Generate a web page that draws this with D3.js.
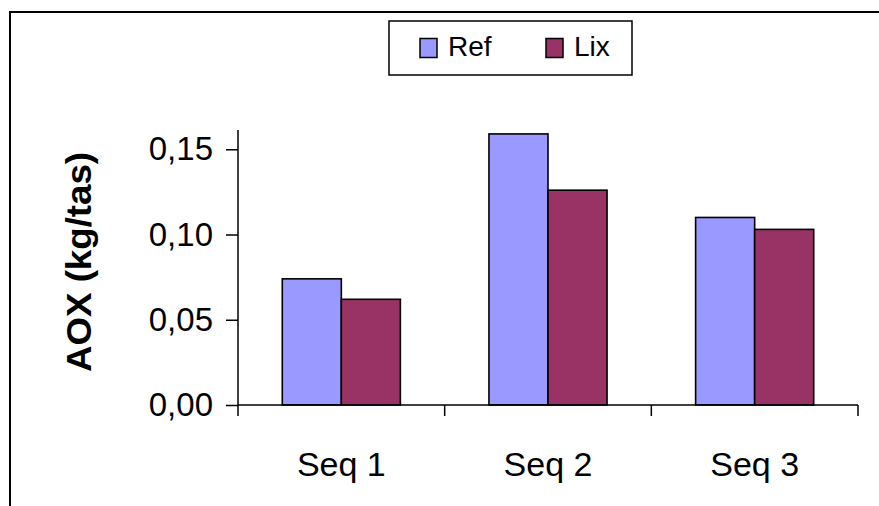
<!DOCTYPE html>
<html>
<head>
<meta charset="utf-8">
<script src="https://cdn.jsdelivr.net/npm/d3@7"></script>
<style>
  html, body { margin: 0; padding: 0; background: #fff; }
  svg { display: block; font-family: "Liberation Sans", Arial, sans-serif; }
</style>
</head>
<body>
<svg id="chart" width="879" height="506"></svg>
<script>
// AOX per sequence, reference vs. leaching
const categories = ["Seq 1", "Seq 2", "Seq 3"];
const seriesNames = ["Ref", "Lix"];
const refValues = [0.074, 0.159, 0.110];
const lixValues = [0.062, 0.126, 0.103];
const tickValues = [0, 0.05, 0.10, 0.15];
const tickLabels = ["0,00", "0,05", "0,10", "0,15"];
const colors = ["#9999FF", "#993366"];

const svg = d3.select("#chart");
const W = 879, H = 506;

// outer chart frame (runs off the right and bottom edges)
svg.append("rect")
  .attr("x", 10).attr("y", 12)
  .attr("width", W + 20).attr("height", H + 20)
  .attr("fill", "#fff").attr("stroke", "#000").attr("stroke-width", 2);

const plot = { left: 238, right: 858, top: 130, bottom: 405 };

const x = d3.scaleBand().domain(categories)
  .range([plot.left, plot.right]).paddingInner(0).paddingOuter(0);
const y = d3.scaleLinear().domain([0, 0.1613]).range([plot.bottom, plot.top]);

// bars: two per category, gap width 150%
const unit = x.bandwidth() / 3.5;
const data = categories.flatMap((c, i) => [
  { cat: c, s: 0, v: refValues[i] },
  { cat: c, s: 1, v: lixValues[i] }
]);
svg.append("g").selectAll("rect").data(data).join("rect")
  .attr("x", d => x(d.cat) + unit * 0.75 + d.s * unit)
  .attr("y", d => y(d.v))
  .attr("width", unit)
  .attr("height", d => y(0) - y(d.v))
  .attr("fill", d => colors[d.s])
  .attr("stroke", "#000").attr("stroke-width", 1.6);

// y axis
const yAxis = d3.axisLeft(y).tickValues(tickValues)
  .tickFormat((d, i) => tickLabels[i]).tickSizeOuter(0).tickSizeInner(12).tickPadding(13);
const gy = svg.append("g").attr("transform", `translate(${plot.left},0)`).call(yAxis);
gy.select(".domain").attr("d", `M0,${plot.top}V${plot.bottom + 11}`).attr("stroke", "#000").attr("stroke-width", 1.5);
gy.selectAll(".tick line").attr("stroke", "#000").attr("stroke-width", 1.5);
gy.selectAll(".tick text").attr("font-size", 33).attr("fill", "#000")
  .attr("font-family", "Liberation Sans, Arial, sans-serif");

// x axis with ticks between categories
const gx = svg.append("g").attr("transform", `translate(0,${plot.bottom})`);
gx.append("line").attr("x1", plot.left).attr("x2", plot.right)
  .attr("stroke", "#000").attr("stroke-width", 1.5);
const bounds = categories.map(c => x(c) + x.bandwidth());
gx.selectAll("line.tk").data(bounds).join("line").attr("class", "tk")
  .attr("x1", d => d).attr("x2", d => d).attr("y1", 0).attr("y2", 11)
  .attr("stroke", "#000").attr("stroke-width", 1.5);
gx.selectAll("text").data(categories).join("text")
  .attr("x", d => x(d) + x.bandwidth() / 2)
  .attr("y", 71)
  .attr("text-anchor", "middle")
  .attr("font-size", 34)
  .text(d => d);

// y axis title
svg.append("text")
  .attr("transform", `translate(91,262) rotate(-90)`)
  .attr("text-anchor", "middle")
  .attr("font-size", 35).attr("font-weight", "bold")
  .attr("textLength", 220).attr("lengthAdjust", "spacingAndGlyphs")
  .text("AOX (kg/tas)");

// legend
const lg = svg.append("g");
lg.append("rect").attr("x", 389).attr("y", 21).attr("width", 243).attr("height", 54)
  .attr("fill", "#fff").attr("stroke", "#000").attr("stroke-width", 1.5);
const legX = [420, 546];
seriesNames.forEach((n, i) => {
  lg.append("rect").attr("x", legX[i]).attr("y", 38.5).attr("width", 17).attr("height", 19)
    .attr("fill", colors[i]).attr("stroke", "#000").attr("stroke-width", 1.5);
  lg.append("text").attr("x", legX[i] + 28).attr("y", 56)
    .attr("font-size", 28).text(n);
});
</script>
</body>
</html>
